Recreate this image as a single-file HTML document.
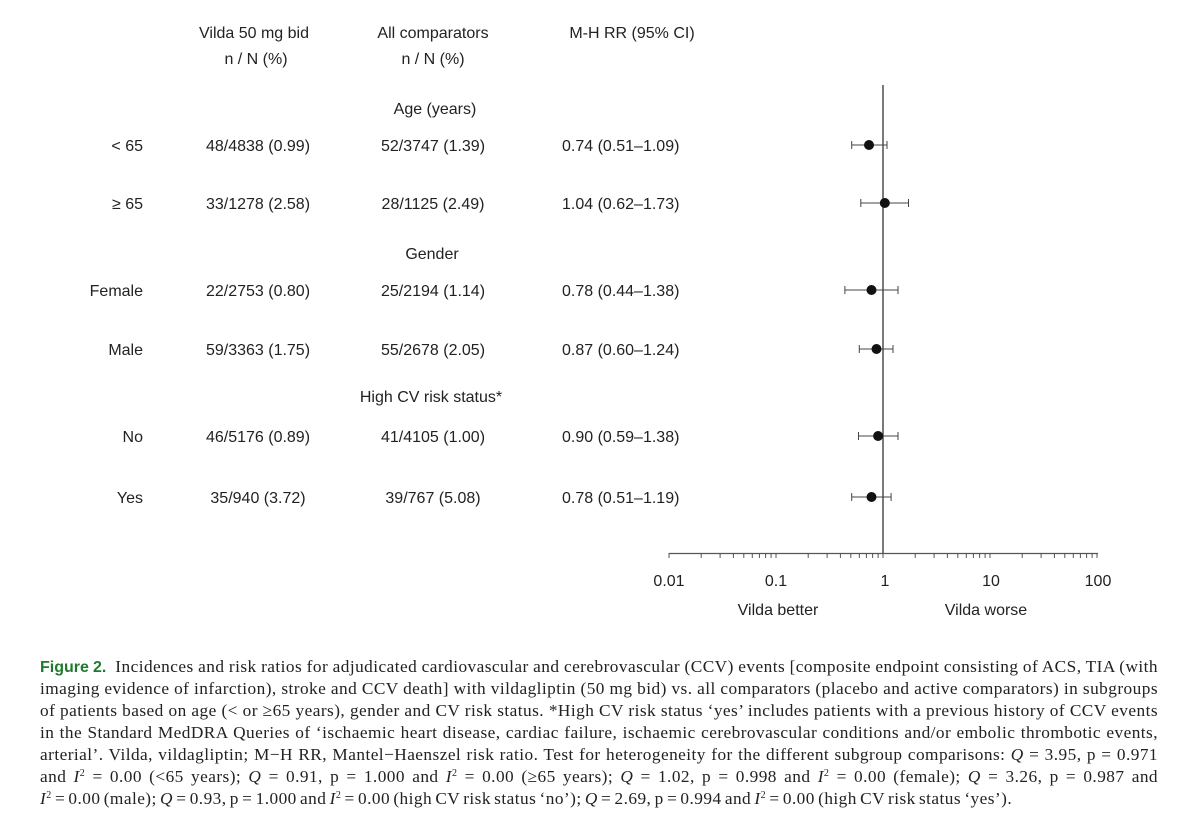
<!DOCTYPE html>
<html><head><meta charset="utf-8"><style>
body{margin:0;background:#fff;width:1197px;height:829px;overflow:hidden;position:relative}
svg{position:absolute;left:0;top:0}
svg text{font-family:"Liberation Sans",sans-serif;font-size:16px;fill:#222}
.cap{position:absolute;left:40px;top:656px;width:1118px;font-family:"Liberation Serif",serif;font-size:17.3px;line-height:22px;color:#222;letter-spacing:0.45px;word-spacing:-1.5px}
.cap span{display:block;height:22px;text-align:justify;text-align-last:justify;white-space:nowrap}
.cap span.last{text-align-last:left}
.cap sup{font-size:10px;line-height:0;vertical-align:6px}
.fig{font-family:"Liberation Sans",sans-serif;font-weight:bold;color:#1f7a2e;font-size:16px;letter-spacing:0}
</style></head><body>
<svg width="1197" height="640" viewBox="0 0 1197 640">
<text x="254" y="38" text-anchor="middle">Vilda 50 mg bid</text>
<text x="256" y="64" text-anchor="middle">n / N (%)</text>
<text x="433" y="38" text-anchor="middle">All comparators</text>
<text x="433" y="64" text-anchor="middle">n / N (%)</text>
<text x="632" y="38" text-anchor="middle">M-H RR (95% CI)</text>
<text x="435" y="114" text-anchor="middle">Age (years)</text>
<text x="432" y="259" text-anchor="middle">Gender</text>
<text x="431" y="402" text-anchor="middle">High CV risk status*</text>
<g text-anchor="end">
<text x="143" y="151">&lt; 65</text>
<text x="143" y="209">≥ 65</text>
<text x="143" y="296">Female</text>
<text x="143" y="355">Male</text>
<text x="143" y="442">No</text>
<text x="143" y="503">Yes</text>
</g>
<g text-anchor="middle">
<text x="258" y="151">48/4838 (0.99)</text>
<text x="258" y="209">33/1278 (2.58)</text>
<text x="258" y="296">22/2753 (0.80)</text>
<text x="258" y="355">59/3363 (1.75)</text>
<text x="258" y="442">46/5176 (0.89)</text>
<text x="258" y="503">35/940 (3.72)</text>
<text x="433" y="151">52/3747 (1.39)</text>
<text x="433" y="209">28/1125 (2.49)</text>
<text x="433" y="296">25/2194 (1.14)</text>
<text x="433" y="355">55/2678 (2.05)</text>
<text x="433" y="442">41/4105 (1.00)</text>
<text x="433" y="503">39/767 (5.08)</text>
</g>
<g>
<text x="562" y="151">0.74 (0.51–1.09)</text>
<text x="562" y="209">1.04 (0.62–1.73)</text>
<text x="562" y="296">0.78 (0.44–1.38)</text>
<text x="562" y="355">0.87 (0.60–1.24)</text>
<text x="562" y="442">0.90 (0.59–1.38)</text>
<text x="562" y="503">0.78 (0.51–1.19)</text>
</g>
<line x1="883" y1="85" x2="883" y2="554" stroke="#333" stroke-width="1.3"/>
<line x1="669" y1="553.5" x2="1098" y2="553.5" stroke="#555" stroke-width="1.3"/>
<g stroke="#555" stroke-width="1" id="ticks"></g>
<g stroke="#444" stroke-width="1" fill="none">
<path d="M851.7 145H887M851.7 141v8M887 141v8"/>
<path d="M860.8 203H908.5M860.8 199v8M908.5 199v8"/>
<path d="M844.9 290H898M844.9 286v8M898 286v8"/>
<path d="M859.3 349H893M859.3 345v8M893 345v8"/>
<path d="M858.5 436H898M858.5 432v8M898 432v8"/>
<path d="M851.7 497H891.1M851.7 493v8M891.1 493v8"/>
</g>
<g fill="#111">
<circle cx="869" cy="145" r="5"/>
<circle cx="884.8" cy="203" r="5"/>
<circle cx="871.5" cy="290" r="5"/>
<circle cx="876.5" cy="349" r="5"/>
<circle cx="878.1" cy="436" r="5"/>
<circle cx="871.5" cy="497" r="5"/>
</g>
<g text-anchor="middle">
<text x="669" y="586">0.01</text>
<text x="776" y="586">0.1</text>
<text x="885" y="586">1</text>
<text x="991" y="586">10</text>
<text x="1098" y="586">100</text>
<text x="778" y="615">Vilda better</text>
<text x="986" y="615">Vilda worse</text>
</g>
</svg>
<script>
(function(){var g=document.getElementById('ticks'),s='';
for(var d=0;d<4;d++){for(var k=1;k<=10;k++){var x=669+107*(d+Math.log10(k));s+='<line x1="'+x.toFixed(1)+'" y1="553" x2="'+x.toFixed(1)+'" y2="558"/>';}}
g.innerHTML=s;})();
</script>
<div class="cap">
<span><b class="fig">Figure 2.</b>&nbsp; Incidences and risk ratios for adjudicated cardiovascular and cerebrovascular (CCV) events [composite endpoint consisting of ACS, TIA (with</span>
<span>imaging evidence of infarction), stroke and CCV death] with vildagliptin (50 mg bid) vs. all comparators (placebo and active comparators) in subgroups</span>
<span>of patients based on age (&lt; or ≥65 years), gender and CV risk status. *High CV risk status ‘yes’ includes patients with a previous history of CCV events</span>
<span>in the Standard MedDRA Queries of ‘ischaemic heart disease, cardiac failure, ischaemic cerebrovascular conditions and/or embolic thrombotic events,</span>
<span>arterial’. Vilda, vildagliptin; M−H RR, Mantel−Haenszel risk ratio. Test for heterogeneity for the different subgroup comparisons: <i>Q</i> = 3.95, p = 0.971</span>
<span>and <i>I</i><sup>2</sup> = 0.00 (&lt;65 years); <i>Q</i> = 0.91, p = 1.000 and <i>I</i><sup>2</sup> = 0.00 (≥65 years); <i>Q</i> = 1.02, p = 0.998 and <i>I</i><sup>2</sup> = 0.00 (female); <i>Q</i> = 3.26, p = 0.987 and</span>
<span class="last"><i>I</i><sup>2</sup> = 0.00 (male); <i>Q</i> = 0.93, p = 1.000 and <i>I</i><sup>2</sup> = 0.00 (high CV risk status ‘no’); <i>Q</i> = 2.69, p = 0.994 and <i>I</i><sup>2</sup> = 0.00 (high CV risk status ‘yes’).</span>
</div>
</body></html>
